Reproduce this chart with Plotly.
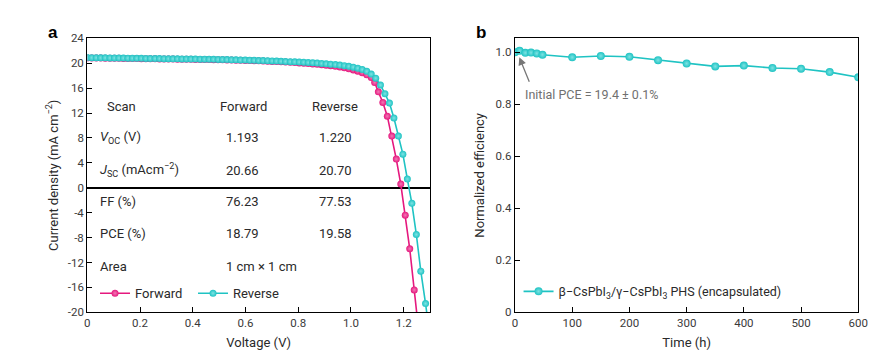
import plotly.graph_objects as go

# ---------------- Panel a data (J–V curves) ----------------
rev_v = [0.000, 0.017, 0.034, 0.051, 0.068, 0.086, 0.103, 0.120, 0.137, 0.154,
         0.171, 0.188, 0.205, 0.222, 0.239, 0.257, 0.274, 0.291, 0.308, 0.325,
         0.342, 0.359, 0.376, 0.393, 0.410, 0.428, 0.445, 0.462, 0.479, 0.496,
         0.513, 0.530, 0.547, 0.564, 0.581, 0.599, 0.616, 0.633, 0.650, 0.667,
         0.684, 0.701, 0.718, 0.735, 0.752, 0.770, 0.787, 0.804, 0.821, 0.838,
         0.855, 0.872, 0.889, 0.906, 0.923, 0.941, 0.958, 0.975, 0.992, 1.009,
         1.026, 1.043, 1.060, 1.077, 1.094, 1.112, 1.129, 1.146, 1.163, 1.180,
         1.197, 1.214, 1.231, 1.248, 1.265, 1.283, 1.300]
rev_j = [20.90, 20.89, 20.88, 20.87, 20.86, 20.85, 20.84, 20.83, 20.82, 20.81,
         20.80, 20.79, 20.78, 20.77, 20.76, 20.75, 20.74, 20.73, 20.72, 20.71,
         20.70, 20.69, 20.68, 20.67, 20.66, 20.65, 20.64, 20.63, 20.62, 20.61,
         20.60, 20.58, 20.56, 20.54, 20.52, 20.50, 20.48, 20.46, 20.44, 20.42,
         20.40, 20.37, 20.34, 20.31, 20.28, 20.25, 20.22, 20.19, 20.15, 20.11,
         20.07, 20.02, 19.97, 19.91, 19.85, 19.78, 19.70, 19.61, 19.50, 19.37,
         19.20, 18.98, 18.70, 18.25, 17.60, 16.50, 15.10, 13.60, 11.20, 8.30,
         5.40, 1.40, -2.50, -7.50, -13.40, -18.60, -24.00]

fwd_v = [0.000, 0.017, 0.034, 0.051, 0.068, 0.086, 0.103, 0.120, 0.137, 0.154,
         0.171, 0.188, 0.205, 0.222, 0.239, 0.257, 0.274, 0.291, 0.308, 0.325,
         0.342, 0.359, 0.376, 0.393, 0.410, 0.428, 0.445, 0.462, 0.479, 0.496,
         0.513, 0.530, 0.547, 0.564, 0.581, 0.599, 0.616, 0.633, 0.650, 0.667,
         0.684, 0.701, 0.718, 0.735, 0.752, 0.770, 0.787, 0.804, 0.821, 0.838,
         0.855, 0.872, 0.889, 0.906, 0.923, 0.941, 0.958, 0.975, 0.992, 1.009,
         1.026, 1.043, 1.060, 1.077, 1.090, 1.104, 1.121, 1.138, 1.155, 1.172,
         1.189, 1.206, 1.223, 1.240, 1.257]
fwd_j = [20.85, 20.84, 20.83, 20.82, 20.81, 20.80, 20.79, 20.78, 20.77, 20.76,
         20.75, 20.74, 20.73, 20.72, 20.71, 20.70, 20.69, 20.68, 20.67, 20.66,
         20.65, 20.64, 20.63, 20.62, 20.61, 20.60, 20.59, 20.58, 20.57, 20.56,
         20.55, 20.53, 20.51, 20.49, 20.47, 20.45, 20.43, 20.41, 20.38, 20.35,
         20.32, 20.29, 20.26, 20.22, 20.18, 20.14, 20.10, 20.05, 20.00, 19.95,
         19.89, 19.83, 19.76, 19.68, 19.60, 19.50, 19.39, 19.26, 19.11, 18.93,
         18.72, 18.46, 18.13, 17.70, 16.90, 15.40, 13.70, 11.50, 8.30, 4.60,
         0.60, -4.40, -9.80, -16.40, -23.00]

a_xticks = [0, 0.2, 0.4, 0.6, 0.8, 1.0, 1.2]
a_xtick_labels = ["0", "0.2", "0.4", "0.6", "0.8", "1.0", "1.2"]
a_yticks = [-20, -16, -12, -8, -4, 0, 4, 8, 12, 16, 20, 24]
a_ytick_labels = ["-20", "-16", "-12", "-8", "-4", "0", "4", "8", "12", "16", "20", "24"]

# table inside panel a
table_rows = ["Scan", "<i>V</i><sub>OC</sub> (V)", "<i>J</i><sub>SC</sub> (mAcm<sup>−2</sup>)",
              "FF (%)", "PCE (%)", "Area"]
table_fwd = ["Forward", "1.193", "20.66", "76.23", "18.79", "1 cm × 1 cm"]
table_rev = ["Reverse", "1.220", "20.70", "77.53", "19.58", ""]
table_row_y = [13.0, 8.1, 2.85, -2.2, -7.3, -12.7]

# ---------------- Panel b data (stability) ----------------
time_h = [0, 8, 18, 28, 38, 48, 100, 150, 200, 250, 300, 350, 400, 450, 500, 550, 600]
norm_eff = [1.000, 1.006, 0.998, 0.999, 0.996, 0.991, 0.981, 0.986, 0.983, 0.970,
            0.957, 0.946, 0.949, 0.940, 0.937, 0.924, 0.904]
b_xticks = [0, 100, 200, 300, 400, 500, 600]
b_yticks = [0, 0.2, 0.4, 0.6, 0.8, 1.0]
b_ytick_labels = ["0", "0.2", "0.4", "0.6", "0.8", "1.0"]

PINK = "#E5187E"
CYAN = "#1FC3C3"
FONT = "Roboto"
TXT = "#2a2a2a"

fig = go.Figure()

fig.add_trace(go.Scatter(
    x=fwd_v, y=fwd_j, mode="lines+markers", name="Forward",
    line=dict(color=PINK, width=1.6),
    marker=dict(size=7, color=PINK, gradient=dict(type="radial", color="#f27ab5"),
                line=dict(width=0)),
    xaxis="x", yaxis="y", legend="legend"))
fig.add_trace(go.Scatter(
    x=rev_v, y=rev_j, mode="lines+markers", name="Reverse",
    line=dict(color=CYAN, width=1.6),
    marker=dict(size=7, color=CYAN, gradient=dict(type="radial", color="#7ee3e3"),
                line=dict(width=0)),
    xaxis="x", yaxis="y", legend="legend"))
fig.add_trace(go.Scatter(
    x=time_h, y=norm_eff, mode="lines+markers",
    name="β−CsPbI<sub>3</sub>/γ−CsPbI<sub>3</sub> PHS (encapsulated)",
    line=dict(color=CYAN, width=1.6),
    marker=dict(size=8, color=CYAN, gradient=dict(type="radial", color="#7ee3e3"),
                line=dict(width=0)),
    xaxis="x2", yaxis="y2", legend="legend2"))

axis_common = dict(showline=True, linecolor="black", linewidth=1.3, mirror=True,
                   ticks="inside", ticklen=5, tickcolor="black", tickwidth=1,
                   showgrid=False, automargin=False,
                   tickfont=dict(family=FONT, size=11.5, color="#3a3a3a"),
                   title_font=dict(family=FONT, size=13, color=TXT))

# the page is drawn with an ~8px offset (body margin), positions below account for it
Y_DOM = [0.1547, 0.9158]

fig.update_layout(
    width=887, height=360,
    margin=dict(l=0, r=0, t=0, b=0),
    paper_bgcolor="white", plot_bgcolor="white",
    font=dict(family=FONT, color=TXT),
    xaxis=dict(domain=[0.0894, 0.4758], range=[0, 1.3], tickvals=a_xticks,
               ticktext=a_xtick_labels, zeroline=False,
               title=dict(text="Voltage (V)", standoff=8), anchor="y", **axis_common),
    yaxis=dict(domain=Y_DOM, range=[-20, 24], tickvals=a_yticks,
               ticktext=a_ytick_labels, zeroline=True, zerolinecolor="black",
               zerolinewidth=1.8,
               title=dict(text="Current density (mA cm<sup>−2</sup>)", standoff=6),
               anchor="x", **axis_common),
    xaxis2=dict(domain=[0.5716, 0.9586], range=[0, 600], tickvals=b_xticks,
                zeroline=False, title=dict(text="Time (h)", standoff=8),
                anchor="y2", **axis_common),
    yaxis2=dict(domain=Y_DOM, range=[0, 1.054], tickvals=b_yticks,
                ticktext=b_ytick_labels, zeroline=False,
                title=dict(text="Normalized efficiency", standoff=8),
                anchor="x2", **axis_common),
    legend=dict(orientation="h", x=0.0981, y=0.2075, xanchor="left", yanchor="middle",
                bgcolor="rgba(0,0,0,0)", font=dict(family=FONT, size=13, color=TXT),
                entrywidth=53, entrywidthmode="pixels"),
    legend2=dict(orientation="h", x=0.5756, y=0.2119, xanchor="left", yanchor="middle",
                 bgcolor="rgba(0,0,0,0)", font=dict(family=FONT, size=12.5, color=TXT)),
    showlegend=True,
)

# table annotations
for lab, fv, rv, yy in zip(table_rows, table_fwd, table_rev, table_row_y):
    lx = 0.067 if lab == "Scan" else 0.040
    fx = 0.497 if fv == "Forward" else 0.518
    rx = 0.846 if rv == "Reverse" else 0.872
    for txt, xx in ((lab, lx), (fv, fx), (rv, rx)):
        if txt:
            fig.add_annotation(x=xx, y=yy, xref="x", yref="y", text=txt, showarrow=False,
                               xanchor="left", yanchor="middle",
                               font=dict(family=FONT, size=13, color=TXT))

# panel b arrow + text
fig.add_annotation(x=7.5, y=0.981, xref="x2", yref="y2", ax=26, ay=0.881,
                   axref="x2", ayref="y2", text="", showarrow=True, arrowhead=2,
                   arrowsize=1.2, arrowwidth=1.3, arrowcolor="#777777")
fig.add_annotation(x=14.5, y=0.836, xref="x2", yref="y2", text="Initial PCE = 19.4 ± 0.1%",
                   showarrow=False, xanchor="left", yanchor="middle",
                   font=dict(family=FONT, size=12.5, color="#707070"))

# panel letters
fig.add_annotation(x=45 / 887, y=1 - 25 / 360, xref="paper", yref="paper", text="<b>a</b>",
                   showarrow=False, xanchor="center", yanchor="middle",
                   font=dict(family="Liberation Sans", size=17, color="black"))
fig.add_annotation(x=473 / 887, y=1 - 25 / 360, xref="paper", yref="paper", text="<b>b</b>",
                   showarrow=False, xanchor="center", yanchor="middle",
                   font=dict(family="Liberation Sans", size=17, color="black"))

fig.write_html("out.html")
